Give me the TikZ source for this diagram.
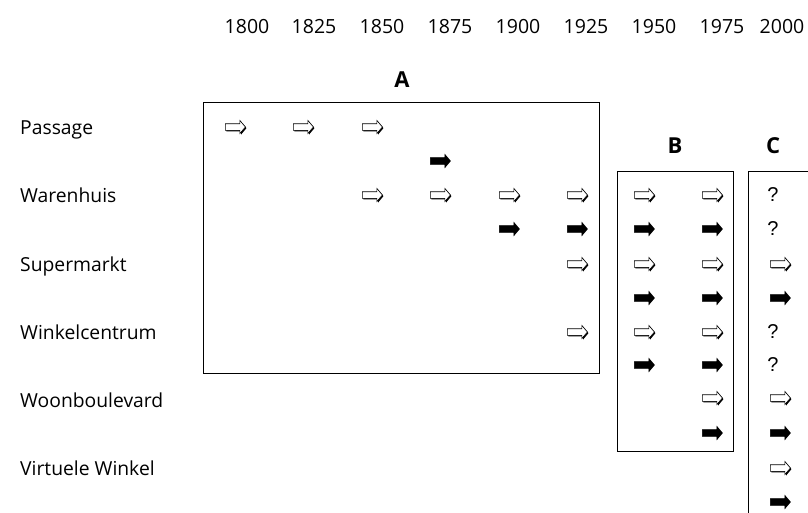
\documentclass[tikz,border=0pt]{standalone}
\usepackage{fontspec}
\setmainfont{Open Sans}
\newfontfamily\qfont{Liberation Sans}
\usetikzlibrary{shapes.arrows,shadows}
\begin{document}
\begin{tikzpicture}[x=1pt,y=-1pt,
  arr/.style={single arrow, minimum height=20pt, inner xsep=0pt, inner ysep=3pt,
    single arrow head extend=3.2pt, single arrow tip angle=100, outer sep=0pt, line width=0.6pt},
  openarr/.style={arr, draw=black, fill=white,
    drop shadow={shadow xshift=1.1pt, shadow yshift=-1.1pt, opacity=1, fill=black}},
  fullarr/.style={arr, draw=black, fill=black},
  lab/.style={anchor=base west, font=\fontsize{19.3}{22}\selectfont, inner sep=0pt},
  yr/.style={anchor=base, font=\fontsize{19.5}{22}\selectfont, inner sep=0pt},
  boxlab/.style={anchor=base, font=\bfseries\fontsize{22}{26}\selectfont, inner sep=0pt},
  qm/.style={font=\qfont\fontsize{20}{24}\selectfont, inner sep=0pt},
  frame/.style={draw=black, line width=0.9pt}]
\useasboundingbox (0,0) rectangle (808,512);
% years
\foreach \yr/\x in {1800/247,1825/314,1850/382,1875/450,1900/518,1925/586,1950/654,1975/722,2000/782}
  \node[yr] (y\yr) at (\x,33) {\yr};
% row labels
\node[lab] (passage) at (20,134) {Passage};
\node[lab] (warenhuis) at (20,202) {Warenhuis};
\node[lab] (supermarkt) at (20,271) {Supermarkt};
\node[lab] (winkelcentrum) at (20,339) {Winkelcentrum};
\node[lab] (woonboulevard) at (20,407) {Woonboulevard};
\node[lab] (virtuele) at (20,475) {Virtuele Winkel};
% boxes
\draw[frame] (203,102) rectangle (599,373);
\draw[frame] (617,171) rectangle (733,451);
\begin{scope}
  \clip (0,0) rectangle (808,512);
  \draw[frame] (748,540) |- (830,171);
\end{scope}
\node[boxlab] (la) at (402,87) {A};
\node[boxlab] (lb) at (675,153) {B};
\node[boxlab] (lc) at (773,153) {C};
% arrows
\foreach \x [count=\i] in {234,302,371} \node[openarr] (r1-\i) at (\x,127) {};
\foreach \x [count=\i] in {439} \node[fullarr] (r2-\i) at (\x,161) {};
\foreach \x [count=\i] in {371,439,508,576,643,711} \node[openarr] (r3-\i) at (\x,195) {};
\foreach \x [count=\i] in {508,576,643,711} \node[fullarr] (r4-\i) at (\x,229) {};
\foreach \x [count=\i] in {576,643,711,779} \node[openarr] (r5-\i) at (\x,264) {};
\foreach \x [count=\i] in {643,711,779} \node[fullarr] (r6-\i) at (\x,298) {};
\foreach \x [count=\i] in {576,643,711} \node[openarr] (r7-\i) at (\x,332) {};
\foreach \x [count=\i] in {643,711} \node[fullarr] (r8-\i) at (\x,365) {};
\foreach \x [count=\i] in {711,779} \node[openarr] (r9-\i) at (\x,398) {};
\foreach \x [count=\i] in {711,779} \node[fullarr] (r10-\i) at (\x,433) {};
\node[openarr] (r11-1) at (779,468) {};
\node[fullarr] (r12-1) at (779,502) {};
% question marks
\node[qm] (q1) at (773,195) {?};
\node[qm] (q2) at (773,229) {?};
\node[qm] (q3) at (773,332) {?};
\node[qm] (q4) at (773,365) {?};
\end{tikzpicture}
\end{document}
